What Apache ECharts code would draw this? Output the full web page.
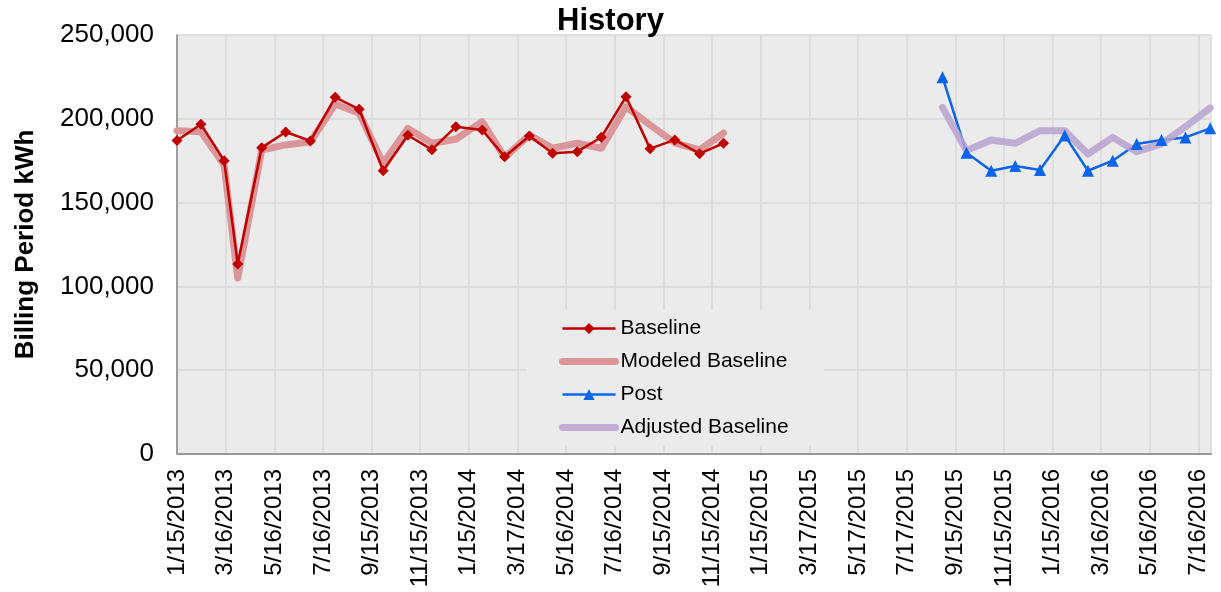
<!DOCTYPE html>
<html lang="en">

<head>
    <meta charset="UTF-8">
    <title>History</title>
    <style>
        html, body { margin: 0; padding: 0; background: #fff; }
        #main { width: 1221px; height: 592px; }
    </style>
</head>

<body>
    <div id="main"></div>

    <script src="https://cdn.jsdelivr.net/npm/echarts/dist/echarts.min.js"></script>
    <script>
        // billing period end dates and kWh
        var baselineDates = ['2013-01-15', '2013-02-14', '2013-03-15', '2013-04-01', '2013-05-01', '2013-05-31',
            '2013-07-01', '2013-08-01', '2013-08-31', '2013-09-30', '2013-10-31', '2013-11-30',
            '2013-12-30', '2014-02-01', '2014-03-01', '2014-04-01', '2014-04-30', '2014-05-31',
            '2014-06-30', '2014-07-31', '2014-08-30', '2014-09-30', '2014-10-31', '2014-11-30']
        var baselineKwh = [187000, 196700, 175000, 113400, 182800, 192100, 186800, 212800, 205700, 169000, 190200, 181600,
            195300, 193300, 177400, 189700, 179400, 180400, 189000, 213200, 182200, 187400, 179200, 185400]
        var modeledKwh = [192900, 192300, 172400, 105000, 181400, 184400, 186300, 208800, 203300, 173400, 194300, 185400,
            187800, 198300, 177000, 190300, 182400, 185400, 182400, 207200, 196300, 185700, 181400, 191500]

        var postDates = ['2015-08-31', '2015-09-30', '2015-10-31', '2015-11-30', '2015-12-31', '2016-01-31',
            '2016-02-29', '2016-03-31', '2016-04-30', '2016-05-31', '2016-06-30', '2016-07-31']
        var postKwh = [224800, 179800, 169000, 171800, 169500, 190100, 169000, 175000, 185000, 187300, 188900, 194300]
        var adjustedKwh = [206800, 181000, 187300, 185400, 192900, 192900, 179000, 188900, 180400, 185000, 195300, 206500]

        var xTickLabels = ['1/15/2013', '3/16/2013', '5/16/2013', '7/16/2013', '9/15/2013', '11/15/2013',
            '1/15/2014', '3/17/2014', '5/16/2014', '7/16/2014', '9/15/2014', '11/15/2014',
            '1/15/2015', '3/17/2015', '5/17/2015', '7/17/2015', '9/15/2015', '11/15/2015',
            '1/15/2016', '3/16/2016', '5/16/2016', '7/16/2016']

        var startDate = '2013-01-15'
        var endDate = '2016-08-01'
        var tickDays = 60.875

        var font = 'Liberation Sans, Arial, sans-serif'
        var pink = '#da9698'
        var lavender = '#b9a2d0'

        // days since start of axis
        function dayNum(s) {
            var p = s.split('-')
            var t0 = startDate.split('-')
            return (Date.UTC(+p[0], p[1] - 1, +p[2]) - Date.UTC(+t0[0], t0[1] - 1, +t0[2])) / 86400000
        }
        function pairs(dates, vals) {
            return dates.map(function (d, i) { return [dayNum(d), vals[i]] })
        }

        window.onload = function () {
            var myChart = echarts.init(document.getElementById('main'))
            var option = {
                animation: false,
                backgroundColor: '#fff',
                title: {
                    text: 'History',
                    left: 'center',
                    top: 1,
                    textStyle: { fontFamily: font, fontSize: 31, fontWeight: 'bold', color: '#000' }
                },
                grid: { left: 177, right: 10, top: 35, bottom: 138, show: true, backgroundColor: '#ebebeb', borderWidth: 0 },
                legend: {
                    // thick lines get no marker in the legend
                    data: [
                        { name: 'Baseline' },
                        { name: 'Modeled Baseline', itemStyle: { opacity: 0 }, lineStyle: { width: 7, color: pink, cap: 'round' } },
                        { name: 'Post' },
                        { name: 'Adjusted Baseline', itemStyle: { opacity: 0 }, lineStyle: { width: 7, color: lavender, cap: 'round' } }
                    ],
                    orient: 'vertical',
                    left: 527,
                    top: 310,
                    padding: [8, 35, 8, 32],
                    backgroundColor: '#ebebeb',
                    itemWidth: 53,
                    itemHeight: 14,
                    itemGap: 12,
                    itemTextGap: 4,
                    lineStyle: { width: 2.5 },
                    textStyle: { fontFamily: font, fontSize: 21, color: '#000' }
                },
                xAxis: {
                    type: 'value',
                    min: 0,
                    max: dayNum(endDate),
                    interval: tickDays,
                    axisLine: { lineStyle: { color: '#999', width: 2 } },
                    axisTick: { show: false },
                    splitLine: { show: true, lineStyle: { color: '#d9d9d9', width: 1.5 } },
                    axisLabel: {
                        rotate: 90,
                        margin: 15,
                        showMaxLabel: false,
                        fontFamily: font,
                        fontSize: 24,
                        color: '#000',
                        formatter: function (v) {
                            var k = v / tickDays
                            if (Math.abs(k - Math.round(k)) > 0.01) return ''
                            return xTickLabels[Math.round(k)] || ''
                        }
                    }
                },
                yAxis: {
                    type: 'value',
                    min: 0,
                    max: 250000,
                    interval: 50000,
                    name: 'Billing Period kWh',
                    nameLocation: 'middle',
                    nameGap: 138,
                    nameTextStyle: { fontFamily: font, fontSize: 26, fontWeight: 'bold', color: '#000' },
                    axisLine: { show: true, lineStyle: { color: '#888', width: 1.5 } },
                    axisTick: { show: false },
                    splitLine: { lineStyle: { color: '#d9d9d9', width: 1.5 } },
                    axisLabel: {
                        margin: 23,
                        fontFamily: font,
                        fontSize: 26,
                        color: '#000',
                        formatter: function (v) { return v.toLocaleString('en-US') }
                    }
                },
                series: [
                    {
                        name: 'Modeled Baseline',
                        type: 'line',
                        data: pairs(baselineDates, modeledKwh),
                        symbol: 'none',
                        color: pink,
                        lineStyle: { width: 7, color: pink, cap: 'round', join: 'round' }
                    },
                    {
                        name: 'Baseline',
                        type: 'line',
                        data: pairs(baselineDates, baselineKwh),
                        symbol: 'diamond',
                        symbolSize: 11,
                        color: '#c00000',
                        itemStyle: { color: '#c00000' },
                        lineStyle: { width: 2.5, color: '#c00000' }
                    },
                    {
                        name: 'Post',
                        type: 'line',
                        data: pairs(postDates, postKwh),
                        symbol: 'triangle',
                        symbolSize: 12,
                        color: '#0a64f0',
                        itemStyle: { color: '#0a64f0' },
                        lineStyle: { width: 2.5, color: '#0a64f0' }
                    },
                    {
                        name: 'Adjusted Baseline',
                        type: 'line',
                        data: pairs(postDates, adjustedKwh),
                        symbol: 'none',
                        color: lavender,
                        lineStyle: { width: 7, color: lavender, opacity: 0.85, cap: 'round', join: 'round' }
                    }
                ]
            }
            myChart.setOption(option)
        }
    </script>
</body>

</html>
